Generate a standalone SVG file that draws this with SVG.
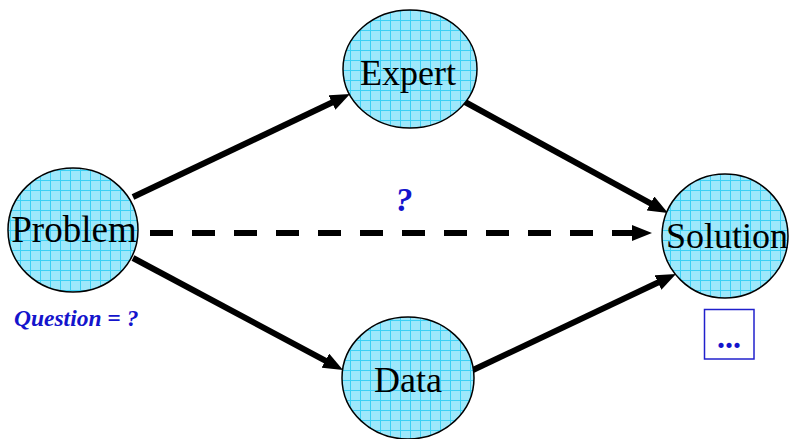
<svg xmlns="http://www.w3.org/2000/svg" width="790" height="439" viewBox="0 0 790 439">
<style>
.node{stroke:#000;stroke-width:1.5;fill:url(#grid)}
.lbl{font-family:"Liberation Serif","Times New Roman",serif;font-size:36px;fill:#000;text-anchor:middle}
.blue{font-family:"Liberation Serif","Times New Roman",serif;font-weight:bold;font-style:italic;fill:#1414cc}
.conn{stroke:#000;stroke-width:6;fill:none;marker-end:url(#ah)}
</style>
<defs>
<pattern id="grid" width="10" height="10" patternUnits="userSpaceOnUse">
<rect width="10" height="10" fill="#9ee8fb"/>
<path d="M0,0.5H10M0.5,0V10" stroke="#3cd0f4" stroke-width="1" fill="none"/>
</pattern>
<marker id="ah" markerUnits="userSpaceOnUse" markerWidth="20" markerHeight="16" viewBox="0 0 20 16" refX="10" refY="8" orient="auto">
<path d="M0,0L20,8L0,16z" fill="#000"/>
</marker>
</defs>
<g id="connectors">
<line class="conn" x1="133" y1="197" x2="341" y2="98.3"/>
<line class="conn" x1="465" y1="102" x2="659.2" y2="208.2"/>
<line class="conn" x1="133" y1="258" x2="334.2" y2="365.3"/>
<line class="conn" x1="473" y1="370" x2="667" y2="278.3"/>
<line class="conn" x1="150" y1="233" x2="642" y2="233" stroke-dasharray="23 19"/>
</g>
<g id="problem">
<ellipse class="node" cx="73" cy="230" rx="65" ry="62"/>
<text class="lbl" x="74" y="242" style="font-size:37px">Problem</text>
</g>
<g id="expert">
<ellipse class="node" cx="410" cy="69" rx="67" ry="59"/>
<text class="lbl" x="408" y="85">Expert</text>
</g>
<g id="solution">
<ellipse class="node" cx="725" cy="236" rx="63" ry="62"/>
<text class="lbl" x="727" y="248">Solution</text>
</g>
<g id="data">
<ellipse class="node" cx="408" cy="378" rx="66" ry="61"/>
<text class="lbl" x="408" y="392">Data</text>
</g>
<g id="question-label">
<text class="blue" x="14" y="326" style="font-size:23.5px">Question = ?</text>
</g>
<g id="unknown-label">
<text class="blue" x="404" y="211" style="font-size:34px;text-anchor:middle">?</text>
</g>
<g id="ellipsis-box">
<rect x="704.5" y="309.5" width="49.5" height="49.5" fill="#fff" stroke="#2020cc" stroke-width="1.5"/>
<text class="blue" x="729" y="348" style="font-size:32px;font-style:normal;text-anchor:middle">...</text>
</g>
</svg>
